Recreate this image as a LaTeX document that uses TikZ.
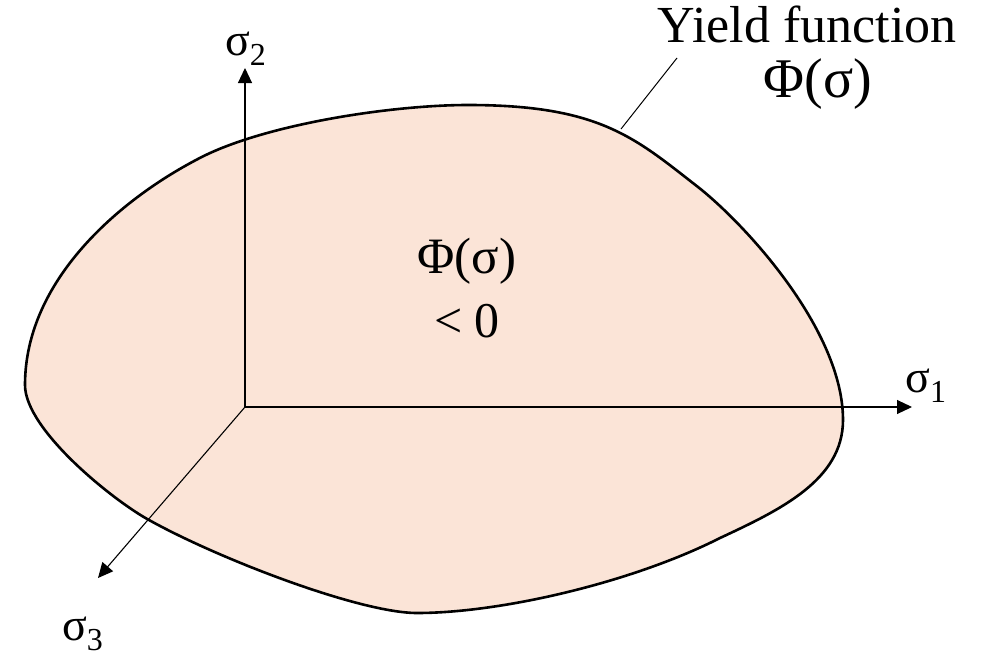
\documentclass[tikz,border=0pt]{standalone}
\usepackage{fontspec}
\setmainfont{Liberation Serif}
\usetikzlibrary{arrows.meta}
\definecolor{yieldfill}{HTML}{FBE4D7}
\newcommand{\sigsub}[1]{σ\raisebox{-0.22em}{\fontsize{32}{32}\selectfont #1}}

\begin{document}
\begin{tikzpicture}[x=1pt,y=-1pt,
  axis/.style={line width=1.1pt,-{Triangle[length=15pt,width=14pt]}},
  lbl/.style={font=\fontsize{46}{50}\selectfont,inner sep=0pt,anchor=base west},
  txt/.style={inner sep=0pt,anchor=base}]
\useasboundingbox (0,0) rectangle (983,656);

\filldraw[fill=yieldfill,line width=2.6pt]
  (25,385) .. controls (25,280) and (120,200) .. (196,160)
  .. controls (260,125) and (390,105) .. (468,105)
  .. controls (600,105) and (635,138) .. (698,187)
  .. controls (745,224) and (843,330) .. (843,420)
  .. controls (843,480) and (780,510) .. (720,538)
  .. controls (631,583) and (500,613) .. (417,613)
  .. controls (360,613) and (219,559) .. (149,520)
  .. controls (114,501) and (25,430) .. cycle;

\coordinate (O) at (245,407);
\coordinate (s1) at (912,407);
\coordinate (s2) at (245,68);
\coordinate (s3) at (98,578);
\draw[axis] (O) -- (s1);
\draw[axis] (O) -- (s2);
\draw[axis] (O) -- (s3);

\node[lbl] (l1) at (905,392) {\sigsub{1}};
\node[lbl] (l2) at (225,55) {\sigsub{2}};
\node[lbl] (l3) at (62,640) {\sigsub{3}};

\node[txt,font=\fontsize{52}{52}\selectfont] (yf) at (807,42) {Yield function};
\node[txt,font=\fontsize{56}{56}\selectfont] (yfphi) at (818,97) {Φ(σ)};
\node[txt,font=\fontsize{51}{51}\selectfont] (inphi) at (467,273) {Φ(σ)};
\node[txt,font=\fontsize{50}{50}\selectfont] (inlt) at (467,337) {< 0};

\coordinate (touch) at (621,129);
\coordinate (tail) at (677,58);
\draw[line width=1pt] (touch) -- (tail);
\end{tikzpicture}
\end{document}
